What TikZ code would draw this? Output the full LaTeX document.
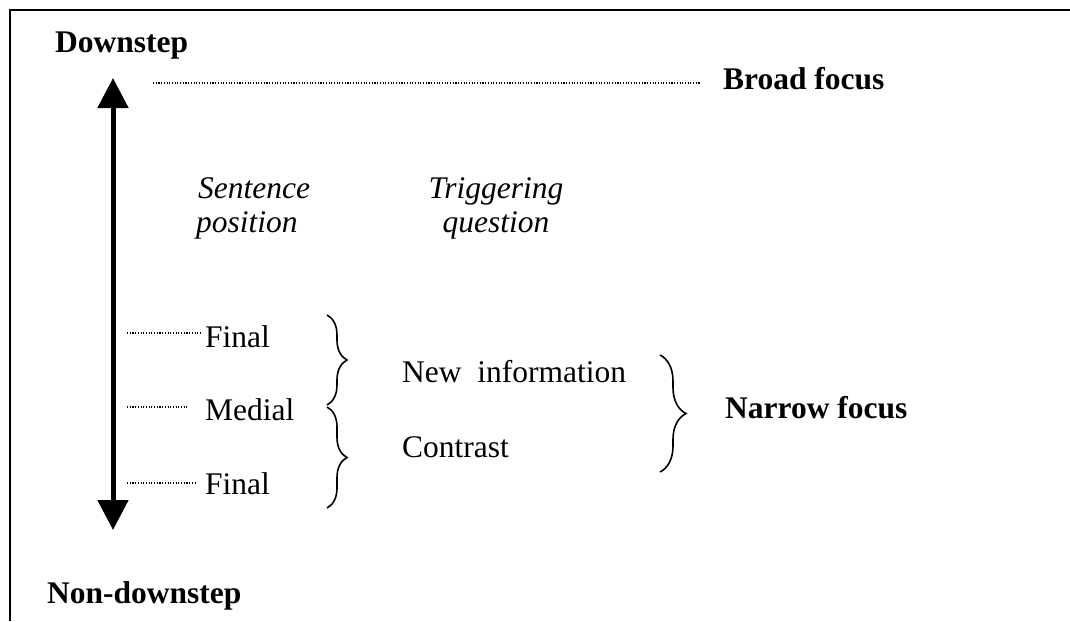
\documentclass[tikz,border=0pt]{standalone}
\usepackage{fontspec}
\setmainfont{Liberation Serif}
\usetikzlibrary{arrows.meta,decorations.pathreplacing}
\begin{document}
\begin{tikzpicture}[x=1pt,y=-1pt,
  txt/.style={inner sep=0pt, font=\fontsize{31.5}{36}\selectfont},
  boldtxt/.style={inner sep=0pt, font=\fontsize{31.5}{36}\selectfont\bfseries},
  italtxt/.style={inner sep=0pt, font=\fontsize{31.5}{36}\selectfont\itshape},
  dots/.style={line width=1.1pt, dash pattern=on 1.1pt off 1.6pt},
  bracedec/.style={decorate, line width=1.6pt},
]
\useasboundingbox (0,0) rectangle (1070,621);
% frame
\draw[line width=2pt] (1070,10) -- (10,10) -- (10,621);

% main double arrow
\coordinate (atop) at (113,78);
\coordinate (abot) at (113,530);
\draw[line width=5pt, {Triangle[width=30pt,length=30pt]}-{Triangle[width=30pt,length=30pt]}] (atop) -- (abot);

% labels
\node[boldtxt, anchor=base west] (down) at (55,52) {Downstep};
\node[boldtxt, anchor=base west] (nondown) at (47,603) {Non-downstep};
\node[boldtxt, anchor=base west] (broad) at (723,89) {Broad focus};
\node[boldtxt, anchor=base west] (narrow) at (725,418) {Narrow focus};

\node[italtxt, anchor=base west] (sent1) at (198,198) {Sentence};
\node[italtxt, anchor=base west] (sent2) at (196,232) {position};
\node[italtxt, anchor=base] (trig1) at (496,198) {Triggering};
\node[italtxt, anchor=base] (trig2) at (496,232) {question};

\node[txt, anchor=base west] (fin1) at (205,347) {Final};
\node[txt, anchor=base west] (med) at (205,420) {Medial};
\node[txt, anchor=base west] (fin2) at (205,494) {Final};

\node[txt, anchor=base west] (newinf) at (402,382) {New\ \ information};
\node[txt, anchor=base west] (contr) at (402,457) {Contrast};

% dotted lines
\coordinate (bd1) at (153,83);
\coordinate (bd2) at (700,83);
\draw[dots] (bd1) -- (bd2);
\coordinate (f1a) at (127,333);
\coordinate (f1b) at (201,333);
\draw[dots] (f1a) -- (f1b);
\coordinate (ma) at (127,407);
\coordinate (mb) at (187,407);
\draw[dots] (ma) -- (mb);
\coordinate (f2a) at (127,483);
\coordinate (f2b) at (196,483);
\draw[dots] (f2a) -- (f2b);

% braces
\coordinate (b1t) at (327,315);
\coordinate (b1b) at (327,405);
\coordinate (b2t) at (327,407);
\coordinate (b2b) at (327,508);
\coordinate (b3t) at (660,355);
\coordinate (b3b) at (660,472);
\draw[bracedec, decoration={brace, amplitude=20pt}] (b1t) -- (b1b);
\draw[bracedec, decoration={brace, amplitude=20pt}] (b2t) -- (b2b);
\draw[bracedec, decoration={brace, amplitude=26pt}] (b3t) -- (b3b);
\end{tikzpicture}
\end{document}
